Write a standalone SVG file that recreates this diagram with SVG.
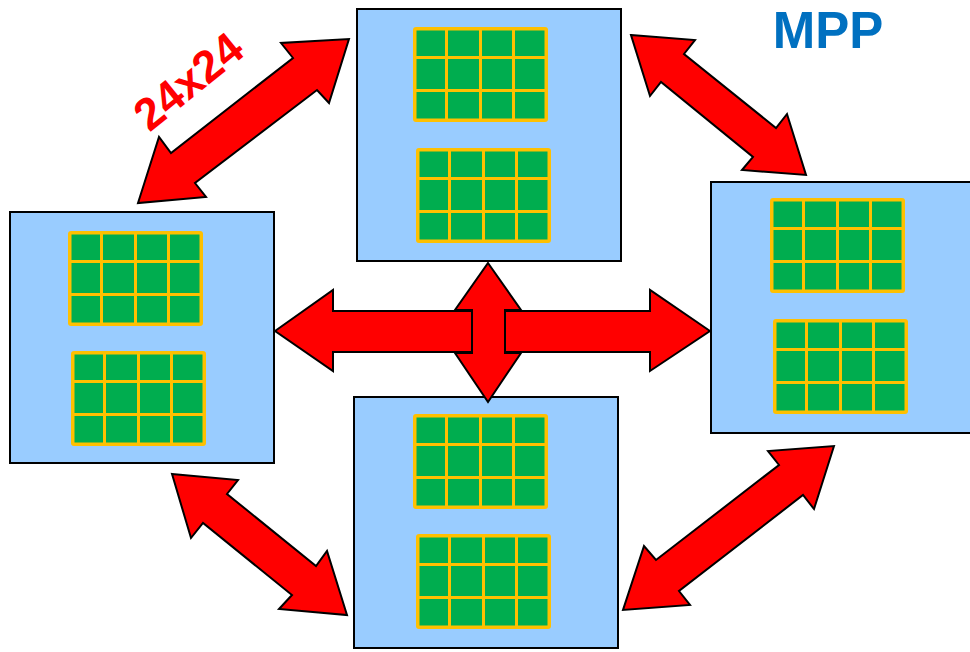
<svg xmlns="http://www.w3.org/2000/svg" xmlns:xlink="http://www.w3.org/1999/xlink" width="970" height="652" viewBox="0 0 970 652">
<style>
.box{fill:#99CCFF;stroke:#000;stroke-width:2}
.frame{fill:#FFC000}
.cell{fill:#00AD4F}
.arrow{fill:#FF0000;stroke:#000;stroke-width:2;stroke-linejoin:miter}
.lbl{font-family:"Liberation Sans",Arial,sans-serif;font-weight:bold}
</style>
<defs>
<g id="grid">
<rect class="frame" x="0" y="0" width="135" height="95" rx="3"/>
<rect class="cell" x="3.5" y="3.5" width="28.5" height="25.5"/>
<rect class="cell" x="35" y="3.5" width="31" height="25.5"/>
<rect class="cell" x="69" y="3.5" width="30" height="25.5"/>
<rect class="cell" x="102" y="3.5" width="29.5" height="25.5"/>
<rect class="cell" x="3.5" y="32" width="28.5" height="30"/>
<rect class="cell" x="35" y="32" width="31" height="30"/>
<rect class="cell" x="69" y="32" width="30" height="30"/>
<rect class="cell" x="102" y="32" width="29.5" height="30"/>
<rect class="cell" x="3.5" y="65" width="28.5" height="26.5"/>
<rect class="cell" x="35" y="65" width="31" height="26.5"/>
<rect class="cell" x="69" y="65" width="30" height="26.5"/>
<rect class="cell" x="102" y="65" width="29.5" height="26.5"/>
</g>
</defs>
<rect width="970" height="652" fill="#fff"/>
<g id="node-top">
<rect class="box" x="357" y="9" width="264" height="252"/>
<use xlink:href="#grid" x="413" y="27"/>
<use xlink:href="#grid" x="416" y="148"/>
</g>
<g id="node-left">
<rect class="box" x="10" y="212" width="264" height="251"/>
<use xlink:href="#grid" x="68" y="231"/>
<use xlink:href="#grid" x="71" y="351"/>
</g>
<g id="node-right">
<rect class="box" x="711" y="182" width="264" height="251"/>
<use xlink:href="#grid" x="770" y="198"/>
<use xlink:href="#grid" x="773" y="319"/>
</g>
<g id="node-bottom">
<rect class="box" x="354" y="397" width="264" height="251"/>
<use xlink:href="#grid" x="413" y="414"/>
<use xlink:href="#grid" x="416" y="534"/>
</g>
<g id="connectors">
<polygon class="arrow" points="349,39 329,103 317,90 195,183 206,197 138,203 159,137 171,153 293,58 281,43"/>
<polygon class="arrow" points="631,35 695,40 684,54 776,128 787,114 806,175 742,170 753,157 661,82 650,96"/>
<polygon class="arrow" points="172,474 238,480 227,494 316,566 327,551 347,615 279,609 292,595 203,523 191,538"/>
<polygon class="arrow" points="834,446 814,509 803,495 679,591 690,605 623,610 644,546 656,560 779,465 768,451"/>
<polygon class="arrow" points="488,263 521,310 505,310 505,353 521,353 488,402 455,353 472,353 472,310 455,310"/>
<polygon class="arrow" points="275,331 333,290 333,311 472,311 472,352 333,352 333,371"/>
<polygon class="arrow" points="710,331 650,290 650,311 505,311 505,352 650,352 650,371"/>
</g>
<text class="lbl" x="0" y="16" font-size="45" fill="#FF0000" text-anchor="middle" transform="translate(188,81) rotate(-39)">24x24</text>
<text class="lbl" x="828" y="48" font-size="51" fill="#0070C0" text-anchor="middle">MPP</text>
</svg>
